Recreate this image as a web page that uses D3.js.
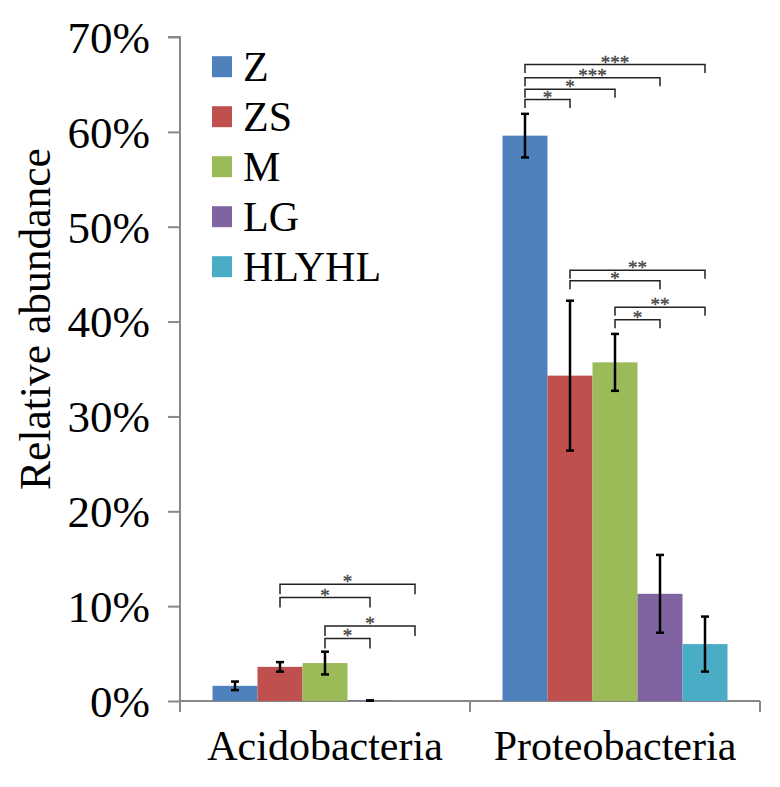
<!DOCTYPE html>
<html>
<head>
<meta charset="utf-8">
<script src="https://cdn.jsdelivr.net/npm/d3@7"></script>
<style>
  html, body { margin: 0; padding: 0; background: #fff; }
  svg { display: block; }
  svg text { font-family: "Liberation Serif", "Tinos", "DejaVu Serif", serif; }
</style>
</head>
<body>
<svg id="chart" width="780" height="787"></svg>
<script>
const categories = ["Acidobacteria", "Proteobacteria"];
const groups = ["Z", "ZS", "M", "LG", "HLYHL"];
const colors = ["#4F81BD", "#C0504D", "#9BBB59", "#8064A2", "#4BACC6"];
const acidoValues = [1.6, 3.6, 4.0, 0.05, 0];
const acidoErrors = [0.45, 0.5, 1.2, 0, 0];
const proteoValues = [59.6, 34.3, 35.7, 11.3, 6.0];
const proteoErrors = [2.3, 7.9, 3.0, 4.1, 2.9];
const yTicks = [0, 10, 20, 30, 40, 50, 60, 70];
const yLabel = "Relative abundance";
// significance brackets: [category, group A, group B, level (%), label]
const brackets = [
  ["Proteobacteria", "Z", "ZS", 63.4, "*"],
  ["Proteobacteria", "Z", "M", 64.5, "*"],
  ["Proteobacteria", "Z", "LG", 65.7, "***"],
  ["Proteobacteria", "Z", "HLYHL", 67.1, "***"],
  ["Proteobacteria", "ZS", "LG", 44.3, "*"],
  ["Proteobacteria", "ZS", "HLYHL", 45.4, "**"],
  ["Proteobacteria", "M", "LG", 40.2, "*"],
  ["Proteobacteria", "M", "HLYHL", 41.5, "**"],
  ["Acidobacteria", "ZS", "HLYHL", 12.3, "*"],
  ["Acidobacteria", "ZS", "LG", 10.9, "*"],
  ["Acidobacteria", "M", "HLYHL", 7.9, "*"],
  ["Acidobacteria", "M", "LG", 6.6, "*"]
];

const data = categories.map((c, i) => ({
  category: c,
  bars: groups.map((g, j) => ({
    group: g,
    value: i === 0 ? acidoValues[j] : proteoValues[j],
    error: i === 0 ? acidoErrors[j] : proteoErrors[j],
    color: colors[j]
  }))
}));

const FONT = "'Liberation Serif', 'Tinos', 'DejaVu Serif', serif";
const svg = d3.select("#chart");
const x0 = d3.scaleBand().domain(categories).range([180, 760]).paddingInner(0).paddingOuter(0);
const x1 = d3.scaleBand().domain(groups).range([32.5, x0.bandwidth() - 32.5]).padding(0);
const y = d3.scaleLinear().domain([0, 70]).range([701, 37]);

// Y axis
const yAxis = d3.axisLeft(y).tickValues(yTicks).tickFormat(d => d + "%").tickSize(12).tickPadding(18);
const gy = svg.append("g").attr("transform", "translate(180,0)").call(yAxis).attr("font-family", FONT);
gy.select(".domain").attr("stroke", "#888").attr("stroke-width", 2).attr("d", "M-12,37H0V701");
gy.selectAll(".tick line").attr("stroke", "#888").attr("stroke-width", 2);
gy.selectAll(".tick text").attr("font-size", 45).attr("fill", "#000").attr("dy", "0.34em");

// X axis
const xAxis = d3.axisBottom(x0).tickSize(0).tickPadding(29);
const gx = svg.append("g").attr("transform", "translate(0,701)").call(xAxis).attr("font-family", FONT);
gx.select(".domain").attr("stroke", "#888").attr("stroke-width", 2).attr("d", "M180,0H760");
gx.selectAll(".tick text").attr("font-size", 42).attr("fill", "#000");
const boundaries = [x0.range()[0]].concat(categories.map(c => x0(c) + x0.bandwidth()));
gx.selectAll(".bound").data(boundaries).enter().append("line")
  .attr("x1", d => d).attr("x2", d => d).attr("y1", 0).attr("y2", 11)
  .attr("stroke", "#888").attr("stroke-width", 2);

// Y label
svg.append("text")
  .attr("transform", "translate(50,319) rotate(-90)")
  .attr("text-anchor", "middle")
  .attr("font-family", FONT)
  .attr("font-size", 43.5)
  .text(yLabel);

// Bars
const cg = svg.selectAll(".cat").data(data).enter().append("g")
  .attr("transform", d => `translate(${x0(d.category)},0)`);
cg.selectAll("rect").data(d => d.bars).enter().append("rect")
  .attr("x", d => x1(d.group))
  .attr("width", x1.bandwidth())
  .attr("y", d => y(d.value))
  .attr("height", d => y(0) - y(d.value))
  .attr("fill", d => d.color);

// Error bars
const eb = cg.selectAll(".err").data(d => d.bars.filter(b => b.value > 0)).enter().append("g");
const cx = d => x1(d.group) + x1.bandwidth() / 2;
eb.append("line").attr("x1", cx).attr("x2", cx)
  .attr("y1", d => y(d.value + d.error)).attr("y2", d => y(d.value - d.error))
  .attr("stroke", "#000").attr("stroke-width", 2.5);
[1, -1].forEach(s => {
  eb.append("line")
    .attr("x1", d => cx(d) - 4).attr("x2", d => cx(d) + 4)
    .attr("y1", d => y(d.value + s * d.error)).attr("y2", d => y(d.value + s * d.error))
    .attr("stroke", "#000").attr("stroke-width", 2.5);
});

// Significance brackets
const bg = svg.append("g");
brackets.forEach(([cat, a, b, level, label]) => {
  const legLen = cat === "Acidobacteria" ? 10 : 8.5;
  const xa = x0(cat) + x1(a) + x1.bandwidth() / 2;
  const xb = x0(cat) + x1(b) + x1.bandwidth() / 2;
  const yy = y(level);
  bg.append("path")
    .attr("d", `M${xa},${yy + legLen}V${yy}H${xb}V${yy + legLen}`)
    .attr("fill", "none").attr("stroke", "#222").attr("stroke-width", 1.5);
  bg.append("text")
    .attr("x", (xa + xb) / 2).attr("y", yy + 4)
    .attr("text-anchor", "middle")
    .attr("font-family", FONT)
    .attr("font-size", 19).attr("fill", "#333")
    .attr("stroke", "#555").attr("stroke-width", 0.4)
    .text(label);
});

// Legend
const lg = svg.append("g");
groups.forEach((g, i) => {
  const cy = 66.7 + i * 50;
  lg.append("rect").attr("x", 212).attr("y", cy - 10.5).attr("width", 20).attr("height", 21)
    .attr("fill", colors[i]);
  lg.append("text").attr("x", 243).attr("y", cy + 14).attr("font-family", FONT)
    .attr("font-size", 42).text(g);
});
</script>
</body>
</html>
